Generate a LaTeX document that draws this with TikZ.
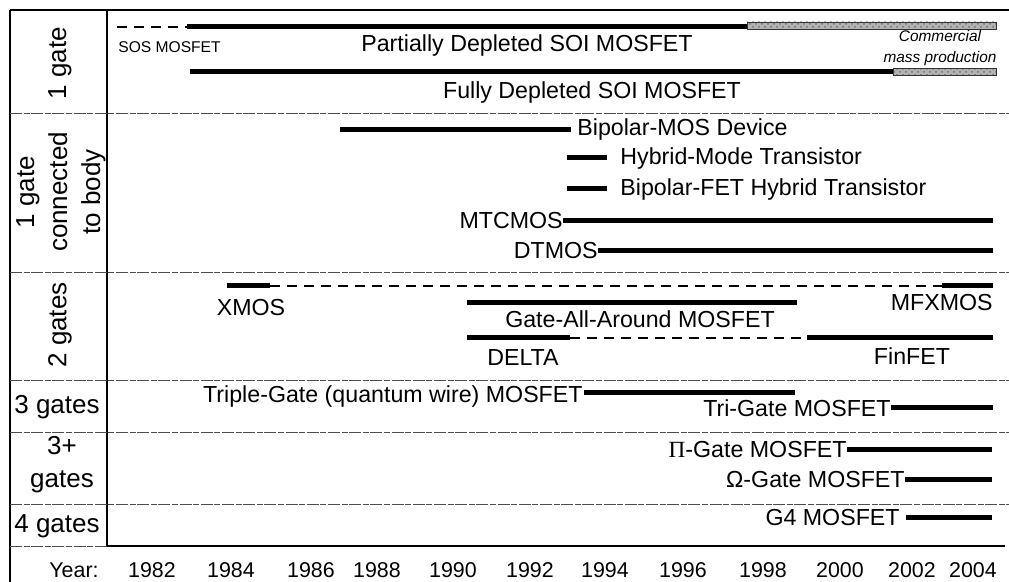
\documentclass[tikz,border=0pt]{standalone}
\usepackage{fontspec}
\usetikzlibrary{patterns}
\setmainfont{Liberation Sans}
\newfontfamily\serifgr{Liberation Serif}
\begin{document}
\begin{tikzpicture}[x=0.5pt,y=-0.5pt,
  lbl/.style={inner sep=0pt, font=\fontsize{11.6}{14}\selectfont},
  side/.style={inner sep=0pt, font=\fontsize{13}{16.5}\selectfont, align=center},
  yr/.style={inner sep=0pt, font=\fontsize{10.7}{12}\selectfont},
  small/.style={inner sep=0pt, font=\fontsize{7.8}{10.5}\selectfont},
  note/.style={inner sep=0pt, font=\itshape\fontsize{7.7}{10.5}\selectfont, align=center},
  bar/.style={line width=2.5pt, line cap=butt},
  dbar/.style={line width=1pt, dash pattern=on 5pt off 3.5pt},
  sep/.style={line width=0.4pt, dash pattern=on 6pt off 0.8pt on 3pt off 0.8pt, black!70},
  frame/.style={line width=0.6pt},
  mass/.style={preaction={fill=gray!60}, pattern=crosshatch dots, pattern color=black!55, draw=gray!40!black, line width=0.3pt}]
\useasboundingbox (0,0) rectangle (1009,582);
\fill[white] (0,0) rectangle (1009,582);

% frame
\coordinate (tl) at (10,10);
\coordinate (tr) at (1009,10);
\coordinate (bl) at (10,582);
\coordinate (ct) at (107,10);
\coordinate (cb) at (107,546);
\coordinate (br) at (1005,546);
\draw[frame] (tl) -- (tr);
\draw[frame] (tl) -- (bl);
\draw[frame] (ct) -- (cb);
\draw[line width=0.9pt] (cb) -- (br);
\foreach \yy in {113,272,380,432,504}{
  \draw[sep] (10,\yy) -- (1009,\yy);
}
\draw[sep] (10,546) -- (cb);

% side labels
\node[side, rotate=90] (g1) at (60,63) {1 gate};
\node[side, rotate=90] (g1b) at (61,192) {1 gate\\connected\\to body};
\node[side, rotate=90] (g2) at (60,325) {2 gates};
\node[side] (g3) at (57,407) {3 gates};
\node[side] (g3p) at (62,465) {3+\\gates};
\node[side] (g4) at (57,526) {4 gates};

% years
\node[yr] (year) at (74,570) {Year:};
\foreach \xx/\yv in {152/1982,231/1984,311/1986,377/1988,453/1990,530/1992,605/1994,683/1996,763/1998,840/2000,912/2002,973/2004}{
  \node[yr] (y\yv) at (\xx,570) {\yv};
}

% 1 gate
\coordinate (sos0) at (117,27);
\coordinate (pd0) at (187,27);
\coordinate (pd1) at (747,26);
\draw[dbar] (sos0) -- (pd0);
\draw[bar] (pd0) -- (pd0 -| pd1);
\draw[mass] (747,22) rectangle (996,29);
\node[small, anchor=mid west] (sos) at (118,47) {SOS MOSFET};
\node[lbl] (pd) at (527,46) {Partially Depleted SOI MOSFET};
\node[note] (cm) at (940,48) {Commercial\\mass production};
\coordinate (fd0) at (190,72);
\coordinate (fd1) at (893,72);
\draw[bar] (fd0) -- (fd1);
\draw[mass] (893,68) rectangle (996,75);
\node[lbl] (fd) at (592,93) {Fully Depleted SOI MOSFET};

% 1 gate connected to body
\coordinate (bm0) at (340,130);
\coordinate (bm1) at (571,130);
\draw[bar] (bm0) -- (bm1);
\node[lbl, anchor=west] (bm) at (577,130) {Bipolar-MOS Device};
\coordinate (hm0) at (567,158);
\coordinate (hm1) at (607,158);
\draw[bar] (hm0) -- (hm1);
\node[lbl, anchor=west] (hm) at (620,159) {Hybrid-Mode Transistor};
\coordinate (bf0) at (567,189);
\coordinate (bf1) at (607,189);
\draw[bar] (bf0) -- (bf1);
\node[lbl, anchor=west] (bf) at (620,190) {Bipolar-FET Hybrid Transistor};
\node[lbl, anchor=east] (mt) at (563,221) {MTCMOS};
\coordinate (mt1) at (993,221);
\draw[bar] (mt.east) -- (mt1);
\node[lbl, anchor=east] (dt) at (598,251) {DTMOS};
\coordinate (dt1) at (993,251);
\draw[bar] (dt.east) -- (dt1);

% 2 gates
\coordinate (xm0) at (227,286);
\coordinate (xm1) at (270,286);
\coordinate (mf0) at (942,286);
\coordinate (mf1) at (993,286);
\draw[bar] (xm0) -- (xm1);
\draw[dbar] (xm1) -- (mf0);
\draw[bar] (mf0) -- (mf1);
\node[lbl] (xm) at (251,308) {XMOS};
\node[lbl, anchor=east] (mf) at (993,303) {MFXMOS};
\coordinate (ga0) at (467,303);
\coordinate (ga1) at (797,303);
\draw[bar] (ga0) -- (ga1);
\node[lbl] (ga) at (640,319) {Gate-All-Around MOSFET};
\coordinate (de0) at (467,338);
\coordinate (de1) at (570,338);
\coordinate (ff0) at (807,338);
\coordinate (ff1) at (993,338);
\draw[bar] (de0) -- (de1);
\draw[dbar] (de1) -- (ff0);
\draw[bar] (ff0) -- (ff1);
\node[lbl] (de) at (523,358) {DELTA};
\node[lbl] (ff) at (912,356) {FinFET};

% 3 gates
\node[lbl, anchor=mid east] (tg) at (583,397) {Triple-Gate (quantum wire) MOSFET};
\coordinate (tg0) at (584,393);
\coordinate (tg1) at (795,393);
\draw[bar] (tg0) -- (tg1);
\node[lbl, anchor=east] (tr3) at (891,408) {Tri-Gate MOSFET};
\coordinate (tr1) at (993,408);
\draw[bar] (tr3.east) -- (tr1);

% 3+ gates
\node[lbl, anchor=east] (pi) at (847,450) {{\serifgr Π}-Gate MOSFET};
\coordinate (pi1) at (992,450);
\draw[bar] (pi.east) -- (pi1);
\node[lbl, anchor=east] (om) at (905,480) {Ω-Gate MOSFET};
\coordinate (om1) at (992,480);
\draw[bar] (om.east) -- (om1);

% 4 gates
\node[lbl, anchor=east] (g4m) at (900,518) {G4 MOSFET};
\coordinate (g40) at (906,518);
\coordinate (g41) at (992,518);
\draw[bar] (g40) -- (g41);
\end{tikzpicture}
\end{document}
